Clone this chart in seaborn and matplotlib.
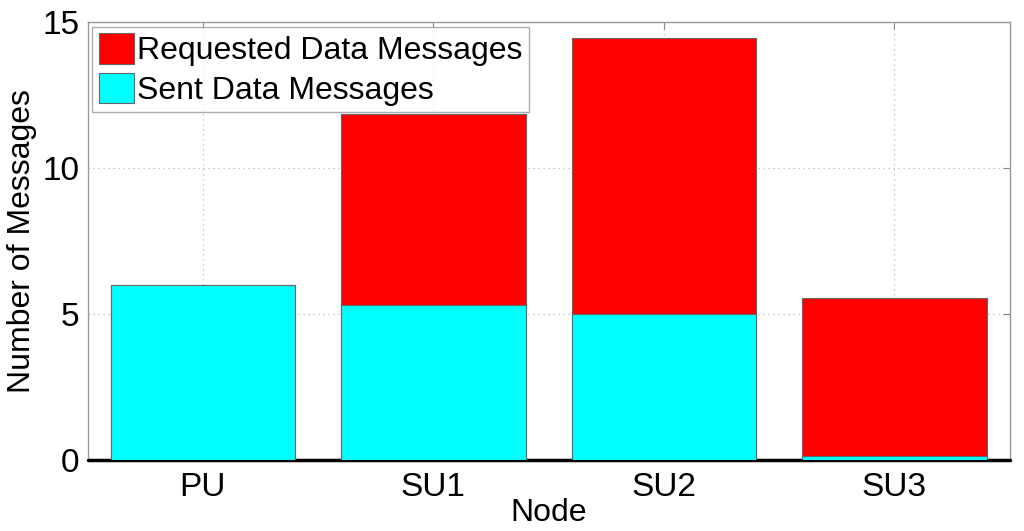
import numpy as np
import pandas as pd
import matplotlib
matplotlib.use("Agg")
import matplotlib.pyplot as plt
import seaborn as sns

# data
nodes = ["PU", "SU1", "SU2", "SU3"]
sent = [6.0, 5.3, 5.0, 0.13]
requested = [0.0, 6.55, 9.45, 5.42]

df = pd.DataFrame({"node": nodes, "sent": sent, "requested": requested})
df["total"] = df["sent"] + df["requested"]

sns.set_style("white")
plt.rcParams["font.family"] = ["Liberation Sans", "DejaVu Sans"]
plt.rcParams["text.color"] = "black"
plt.rcParams["axes.labelcolor"] = "black"
plt.rcParams["xtick.color"] = "black"
plt.rcParams["ytick.color"] = "black"

fig = plt.figure(figsize=(10.24, 5.31), dpi=100)
ax = fig.add_axes([0.0855, 0.134, 0.9005, 0.8245])

# stacked bars: total (red) underneath, sent (cyan) on top of it
sns.barplot(data=df, x="node", y="total", color="#ff0000", saturation=1,
            width=0.8, edgecolor="#666666", linewidth=0.8,
            label="Requested Data Messages", ax=ax, zorder=3)
sns.barplot(data=df, x="node", y="sent", color="#00ffff", saturation=1,
            width=0.8, edgecolor="#666666", linewidth=0.8,
            label="Sent Data Messages", ax=ax, zorder=3)

# bar baseline
ax.axhline(0, color="black", lw=2.5, zorder=2.8, clip_on=False)

ax.set_xlim(-0.5, 3.5)
ax.set_ylim(0, 15)
ax.set_yticks([0, 5, 10, 15])
ax.grid(True, linestyle=(0, (1, 3)), color="#bbbbbb", linewidth=0.9, zorder=0)
ax.set_axisbelow(True)

ax.tick_params(direction="in", length=5, color="#888888", labelsize=24,
               labelcolor="black", top=True, right=True)
ax.tick_params(axis="x", pad=9)
ax.tick_params(axis="y", pad=6)
for s in ax.spines.values():
    s.set_color("#999999")
    s.set_linewidth(1)

ax.set_xlabel("Node", fontsize=23, labelpad=-4)
ax.set_ylabel("Number of Messages", fontsize=23, labelpad=4)

leg = ax.legend(loc="upper left", fontsize=23, frameon=True, fancybox=False,
                borderaxespad=0.15, handlelength=1.1, handleheight=1.1,
                handletextpad=0.1, labelspacing=0.2, borderpad=0.2)
leg.get_frame().set_edgecolor("#999999")
leg.get_frame().set_linewidth(1)

fig.savefig("out.png", dpi=100)
